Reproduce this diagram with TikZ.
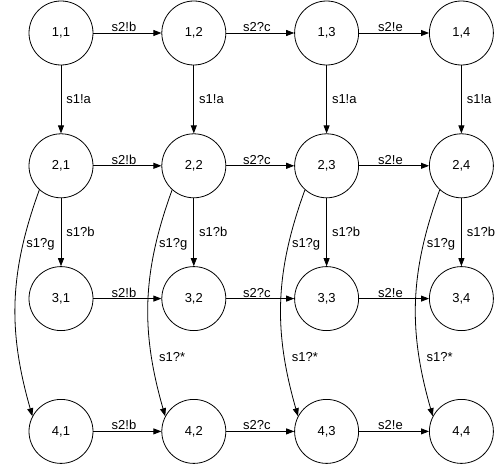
\documentclass[tikz,border=0pt]{standalone}
\usepackage{fontspec}
\setmainfont{Liberation Sans}
\usepackage{tikz}
\usetikzlibrary{
arrows.meta,
positioning
}
\tikzset{
ststate/.style={draw, circle, minimum size=64pt, inner sep=0pt, line width=0.8pt,
  font=\fontsize{13}{15}\selectfont},
starrow/.style={-{Triangle[length=8pt, width=6pt]}, line width=0.8pt},
stcurve/.style={starrow, out=250, in=106},
stlabel/.style={font=\fontsize{13}{15}\selectfont, inner sep=1pt}
}

\begin{document}
\begin{tikzpicture}[x=1pt, y=1pt, node distance=68pt and 68pt]
\useasboundingbox (0,0) rectangle (498,469);
\node[ststate] (s11) at (61,436) {1,1};
\node[ststate, right=of s11] (s12) {1,2};
\node[ststate, right=of s12] (s13) {1,3};
\node[ststate, right=70pt of s13] (s14) {1,4};
\node[ststate, below=of s11] (s21) {2,1};
\node[ststate, below=of s12] (s22) {2,2};
\node[ststate, below=of s13] (s23) {2,3};
\node[ststate, below=of s14] (s24) {2,4};
\node[ststate, below=of s21] (s31) {3,1};
\node[ststate, below=of s22] (s32) {3,2};
\node[ststate, below=of s23] (s33) {3,3};
\node[ststate, below=of s24] (s34) {3,4};
\node[ststate, below=of s31] (s41) {4,1};
\node[ststate, below=of s32] (s42) {4,2};
\node[ststate, below=of s33] (s43) {4,3};
\node[ststate, below=of s34] (s44) {4,4};

\draw[starrow] (s11) -- node[stlabel, above, pos=0.45] {s2!b} (s12);
\draw[starrow] (s12) -- node[stlabel, above, pos=0.45] {s2?c} (s13);
\draw[starrow] (s13) -- node[stlabel, above, pos=0.45] {s2!e} (s14);
\draw[starrow] (s21) -- node[stlabel, above, pos=0.45] {s2!b} (s22);
\draw[starrow] (s22) -- node[stlabel, above, pos=0.45] {s2?c} (s23);
\draw[starrow] (s23) -- node[stlabel, above, pos=0.45] {s2!e} (s24);
\draw[starrow] (s31) -- node[stlabel, above, pos=0.45] {s2!b} (s32);
\draw[starrow] (s32) -- node[stlabel, above, pos=0.45] {s2?c} (s33);
\draw[starrow] (s33) -- node[stlabel, above, pos=0.45] {s2!e} (s34);
\draw[starrow] (s41) -- node[stlabel, above, pos=0.45] {s2!b} (s42);
\draw[starrow] (s42) -- node[stlabel, above, pos=0.45] {s2?c} (s43);
\draw[starrow] (s43) -- node[stlabel, above, pos=0.45] {s2!e} (s44);

\draw[starrow] (s11) -- node[stlabel, right=4pt] {s1!a} (s21);
\draw[starrow] (s12) -- node[stlabel, right=4pt] {s1!a} (s22);
\draw[starrow] (s13) -- node[stlabel, right=4pt] {s1!a} (s23);
\draw[starrow] (s14) -- node[stlabel, right=4pt] {s1!a} (s24);
\draw[starrow] (s21) -- node[stlabel, right=4pt] {s1?b} (s31);
\draw[starrow] (s22) -- node[stlabel, right=4pt] {s1?b} (s32);
\draw[starrow] (s23) -- node[stlabel, right=4pt] {s1?b} (s33);
\draw[starrow] (s24) -- node[stlabel, right=4pt] {s1?b} (s34);

\draw[stcurve] (s21.228) to node[stlabel, right=2pt, pos=0.23] {s1?g} (s41.152);
\draw[stcurve] (s22.228) to node[stlabel, right=2pt, pos=0.23] {s1?g}
  node[stlabel, right=6pt, pos=0.75] {s1?*} (s42.152);
\draw[stcurve] (s23.228) to node[stlabel, right=2pt, pos=0.23] {s1?g}
  node[stlabel, right=6pt, pos=0.75] {s1?*} (s43.152);
\draw[stcurve] (s24.228) to node[stlabel, right=2pt, pos=0.23] {s1?g}
  node[stlabel, right=6pt, pos=0.75] {s1?*} (s44.152);
\end{tikzpicture}
\end{document}
